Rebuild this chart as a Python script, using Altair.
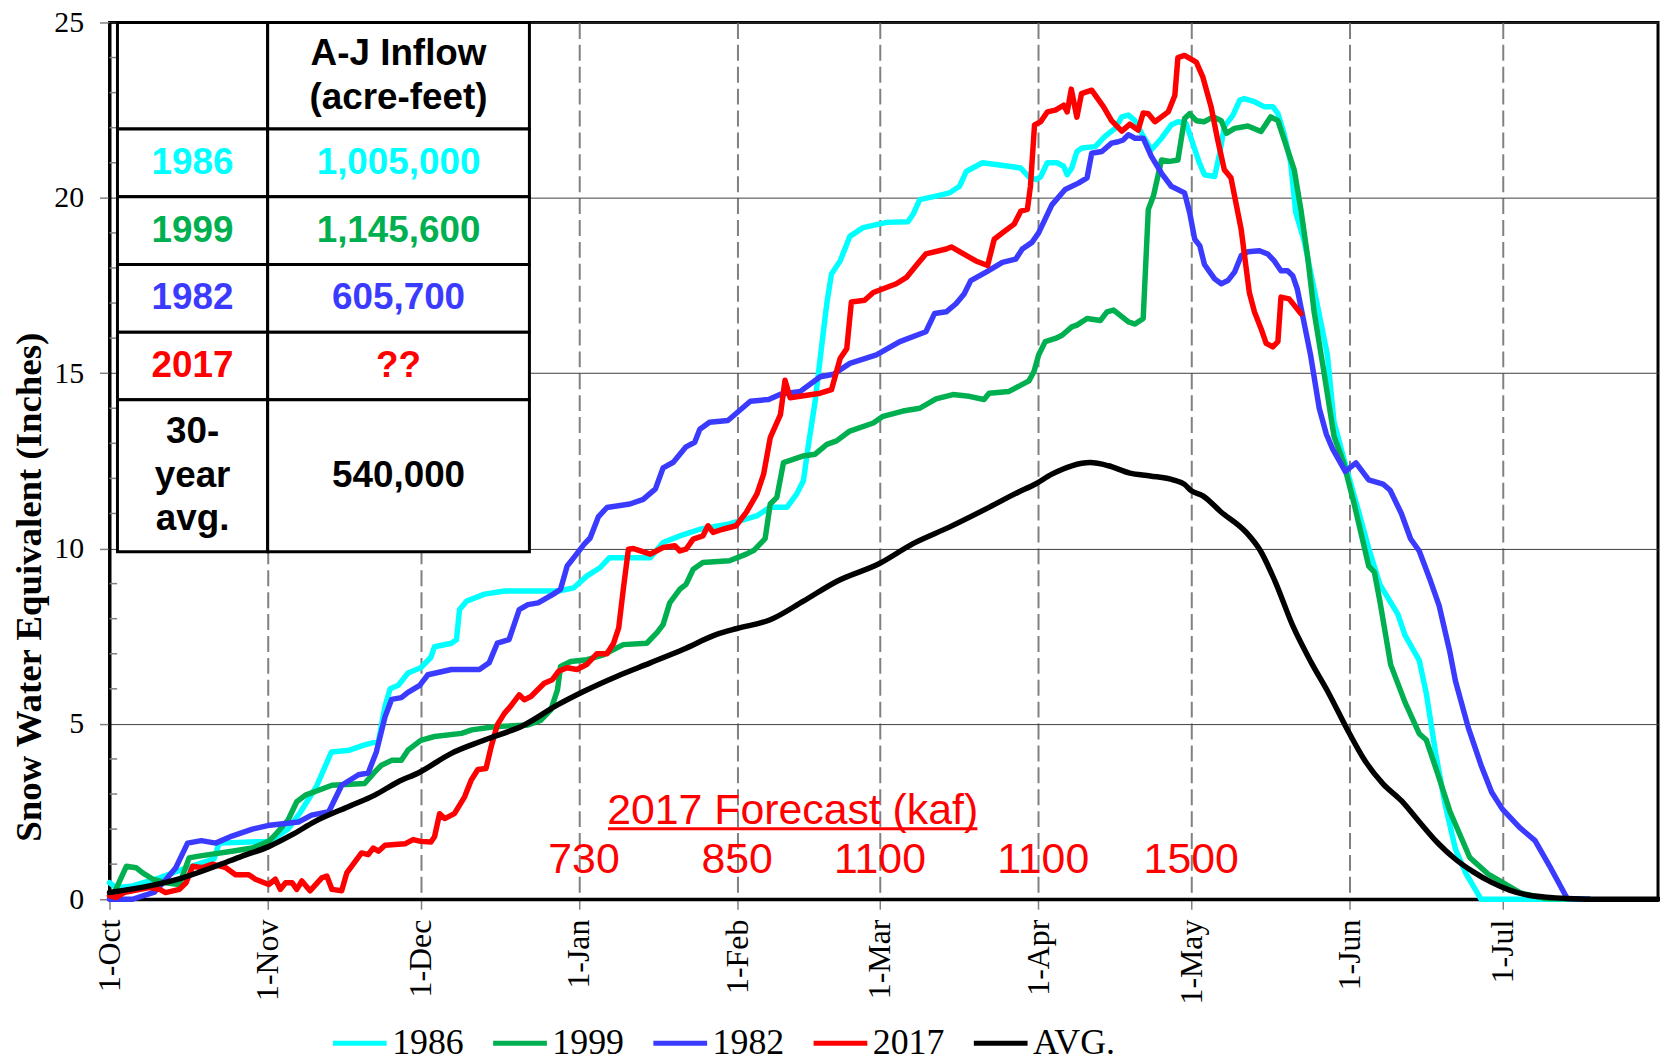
import altair as alt
import pandas as pd

# ---------------- data: day index counted from 1-Oct, SWE in inches ----------------
days_1986 = [0, 1.3, 4.5, 9, 14.3, 15.3, 20.5, 21.5, 31, 32.5, 35, 37.5, 40.5, 43.5, 47, 50, 52.7, 54, 55, 56.6,
             58.5, 61, 63, 63.7, 67, 68, 68.6, 70, 73.5, 77.4, 88, 91, 93.6, 96.2, 98, 106, 108.5, 111.8, 115.7,
             121.5, 127, 129.5, 132.8, 134.7, 136, 137, 138.3, 139.6, 140.6, 141.5, 143.2, 145.1, 147.7, 152.3,
             156.5, 157.5, 158.8, 162, 164.6, 166.6, 167.9, 171.1, 176.3, 178.6, 180.2, 181.5, 182.5, 183.8, 185.7,
             187, 187.7, 188.6, 189.6, 190.6, 193.2, 195.1, 197.1, 198.4, 199.7, 201, 202.3, 204.2, 206.2, 208.1,
             209.4, 211, 212.3, 213.6, 214.6, 216.6, 217.6, 218.5, 220.2, 221.5, 222.4, 224.4, 226.3, 228, 229,
             230.2, 231.5, 232.5, 234.1, 236.1, 237.4, 238.7, 240, 242.6, 244.7, 246.8, 249, 252.5, 253.9, 256.7,
             258.1, 259.9, 261.7, 263.8, 265.9, 268.8, 290]
swe_1986 = [0.47, 0.33, 0.38, 0.57, 0.85, 0.9, 1.15, 1.6, 1.65, 1.75, 2.0, 2.5, 3.2, 4.2, 4.25, 4.4, 4.5, 5.5, 6.0, 6.1,
            6.45, 6.6, 6.9, 7.2, 7.3, 7.4, 8.26, 8.5, 8.7, 8.79, 8.79, 8.88, 9.22, 9.46, 9.74, 9.74, 10.17, 10.36, 10.55,
            10.7, 10.94, 11.18, 11.18, 11.56, 11.93, 12.97, 14.2, 15.8, 17.0, 17.83, 18.2, 18.9, 19.15, 19.3,
            19.32, 19.53, 19.95, 20.05, 20.14, 20.33, 20.75, 21.0, 20.9, 20.85, 20.6, 20.52, 20.6, 21.0, 21.0,
            20.9, 20.66, 20.85, 21.32, 21.42, 21.46, 21.75, 21.98, 22.31, 22.36, 22.2, 21.84, 21.37, 21.7, 22.08,
            22.17, 22.12, 21.56, 21.0, 20.66, 20.61, 21.27, 22.03, 22.36, 22.78, 22.83, 22.74, 22.6, 22.6, 22.4,
            21.84, 21.0, 19.58, 18.8, 17.4, 16.46, 15.52, 13.6, 12.2, 11.12, 10.0, 8.97, 8.13, 7.53, 6.81,
            5.86, 4.18, 2.75, 1.43, 0.72, 0.0, 0.0]

days_1999 = [0, 1, 3.3, 5.2, 6.5, 8.5, 11, 13.7, 15.6, 17.5, 24, 28, 31.2, 32.5, 35, 36.7, 38.4, 43.6, 50, 52, 53.3,
             55.3, 57.2, 58.5, 61, 63.7, 69, 71, 75.4, 82, 84.5, 86.5, 87.8, 88.4, 90.4, 93.6, 96.8, 100.7, 105.3,
             107.3, 108.5, 109.8, 111.8, 113, 114.4, 116.3, 121.5, 124.8, 126.3, 128.5, 129.5, 130.8, 132.1, 136,
             138.3, 140.6, 142.5, 145.1, 149.7, 151.6, 155.5, 158.8, 162, 165.3, 168.5, 171.4, 172.4, 176.3, 180.2,
             181.2, 182.1, 183.4, 185.4, 186.7, 188.6, 189.6, 191.6, 194.2, 195.5, 196.8, 198.1, 199.7, 201, 202.6,
             203.6, 204.6, 206.2, 207.8, 209.4, 210.7, 211.7, 213, 214.6, 216.3, 217.9, 218.9, 220.5, 223.1, 225.7,
             227.6, 229, 230.9, 232.2, 233.5, 234.8, 236.1, 238, 240, 241.9, 244, 246.8, 247.9, 249, 251.1, 253.9,
             256.7, 258.1, 260.3, 262.7, 266.6, 270.2, 273, 276.5, 281.5, 290]
swe_1999 = [0.1, 0.2, 0.94, 0.9, 0.75, 0.57, 0.47, 0.42, 1.18, 1.23, 1.37, 1.46, 1.65, 1.84, 2.26, 2.78, 2.97, 3.25, 3.3,
            3.63, 3.82, 3.96, 3.96, 4.25, 4.53, 4.64, 4.73, 4.83, 4.92, 4.97, 5.1, 5.4, 5.97, 6.64, 6.78, 6.83, 6.97,
            7.26, 7.3, 7.6, 7.83, 8.45, 8.84, 8.98, 9.41, 9.6, 9.65, 9.84, 9.95, 10.28, 11.27, 11.46, 12.45, 12.64,
            12.69, 12.97, 13.07, 13.35, 13.58, 13.77, 13.92, 14.0, 14.27, 14.39, 14.34, 14.25, 14.43, 14.48, 14.78,
            15.05, 15.52, 15.9, 15.99, 16.08, 16.32, 16.37, 16.56, 16.5, 16.75, 16.8, 16.65, 16.46, 16.4, 16.56,
            19.67, 20.05, 21.08, 21.04, 21.08, 22.26, 22.4, 22.2, 22.17, 22.31, 22.2, 21.84, 21.98, 22.05, 21.89,
            22.31, 22.2, 21.37, 20.8, 19.67, 18.35, 16.75, 15.05, 13.2, 12.44, 11.24, 9.5, 9.33, 8.49, 6.69, 5.62,
            4.72, 4.54, 3.59, 2.51, 1.19, 0.72, 0.48, 0.18, 0.02, 0.0]

days_1982 = [0, 4.5, 8.8, 10.7, 13, 15.3, 18, 20.8, 24, 28, 31, 37, 39.6, 43, 45.5, 48.8, 50.7, 52.3, 54, 55.3, 57.2,
             58.5, 60.8, 62.4, 67, 72.5, 74.4, 76, 78.3, 80.3, 82, 84, 87, 88.4, 89.7, 91, 93, 94.2, 95.8, 97.5, 102,
             104.6, 107, 108.5, 110.5, 113, 114.7, 115.7, 117.6, 121.2, 122.8, 125.6, 129.2, 131.5, 135.4, 139.3,
             141.9, 145.1, 150.3, 154.9, 160, 161.7, 164, 165.9, 167.5, 168.8, 171.8, 175, 177.6, 178.9, 180.8,
             182.1, 183.4, 184.7, 187.3, 189.9, 191.6, 192.5, 194.5, 196.4, 197.7, 198.7, 199.7, 201, 202.6, 204.2,
             206.2, 208.1, 210.7, 211.7, 212.7, 213.7, 214.6, 216.6, 217.9, 219.2, 220.5, 221.8, 223.1, 225.4, 227,
             228.3, 229.6, 230.9, 231.9, 232.8, 234.1, 235.4, 237.1, 238.5, 239.7, 242.2, 244.3, 246.8, 249.6, 251,
             253.2, 255, 256.7, 258.9, 260.6, 262.7, 263.8, 266.3, 268.8, 270.9, 273, 276.5, 279.4, 282.2, 285.7,
             290]
swe_1982 = [0.0, 0.0, 0.2, 0.5, 0.9, 1.6, 1.67, 1.6, 1.8, 2.0, 2.1, 2.2, 2.4, 2.5, 3.25, 3.55, 3.6, 4.2, 5.2, 5.7, 5.75,
            5.9, 6.1, 6.4, 6.55, 6.55, 6.74, 7.3, 7.4, 8.26, 8.4, 8.45, 8.7, 8.84, 9.5, 9.74, 10.12, 10.3, 10.9, 11.17,
            11.27, 11.4, 11.7, 12.3, 12.46, 12.9, 13.03, 13.4, 13.6, 13.65, 13.85, 14.2, 14.25, 14.4, 14.48, 14.9,
            14.97, 15.28, 15.52, 15.9, 16.18, 16.7, 16.75, 16.98, 17.26, 17.64, 17.88, 18.16, 18.25, 18.54, 18.73,
            19.0, 19.4, 19.8, 20.24, 20.42, 20.57, 21.27, 21.32, 21.56, 21.6, 21.65, 21.8, 21.7, 21.7, 21.18, 20.7,
            20.33, 20.14, 19.58, 18.82, 18.63, 18.1, 17.69, 17.55, 17.64, 17.88, 18.35, 18.46, 18.49, 18.4, 18.2,
            17.92, 17.92, 17.78, 17.4, 16.46, 15.52, 14.0, 13.26, 12.85, 12.2, 12.44, 11.96, 11.84, 11.66, 11.0,
            10.28, 9.93, 9.08, 8.37, 7.05, 6.22, 4.9, 3.83, 3.05, 2.57, 2.03, 1.67, 0.96, 0.02, 0.0]

days_2017 = [0, 1.3, 3, 4.5, 7.8, 9.8, 11, 13.7, 15, 16.3, 18.2, 20.2, 22.8, 24.7, 27.3, 28.6, 31.2, 32.5, 33.5, 34.5,
             35.8, 36.7, 37.7, 39.3, 41.6, 42.6, 43.6, 45.5, 46.5, 49.4, 50.7, 51.7, 52.7, 54, 57.9, 59.5, 61, 63,
             63.7, 64.7, 65.7, 67.6, 69.6, 70.9, 72.2, 73.8, 74.8, 76, 77.4, 78.6, 80.3, 81.3, 82.6, 85.2, 86.8, 88,
             89.7, 91.6, 93.6, 95.5, 97.5, 98.8, 99.8, 100.7, 101.7, 102.7, 106, 108.5, 110.8, 111.8, 113, 114.4,
             116.3, 117.3, 118.3, 120.2, 122.8, 124.8, 126.9, 128.2, 129.5, 131.5, 132.4, 133.4, 139.3, 141.5, 143.2,
             144.5, 145.4, 148, 149.7, 154.2, 156.2, 158.1, 160, 164, 165, 169.8, 172.1, 173.4, 175, 177.3, 178.6,
             179.9, 180.5, 181.3, 182.5, 183.8, 185.4, 187, 187.7, 188.5, 189.6, 190.5, 192.5, 194.8, 196.4, 198.4,
             200, 201.6, 202.6, 203.6, 204.9, 207.5, 208.8, 209.4, 210.7, 213, 214.3, 215.9, 217.2, 218.5, 219.8,
             221.8, 223.4, 224.4, 225.7, 226.7, 228, 229, 229.6, 231.2, 233.5]
swe_2017 = [0.1, 0.05, 0.2, 0.24, 0.33, 0.28, 0.19, 0.28, 0.47, 0.94, 0.9, 1.0, 0.9, 0.7, 0.7, 0.57, 0.42, 0.57, 0.28,
            0.47, 0.47, 0.28, 0.52, 0.24, 0.61, 0.66, 0.28, 0.24, 0.75, 1.32, 1.27, 1.46, 1.37, 1.54, 1.58, 1.7, 1.65,
            1.63, 1.78, 2.44, 2.3, 2.44, 2.92, 3.4, 3.7, 3.73, 4.35, 4.97, 5.3, 5.5, 5.83, 5.69, 5.78, 6.16, 6.26,
            6.5, 6.6, 6.55, 6.7, 7.0, 7.0, 7.3, 7.74, 8.84, 9.98, 10.0, 9.84, 10.03, 10.08, 9.93, 9.98, 10.27, 10.36,
            10.65, 10.46, 10.55, 10.65, 11.03, 11.56, 12.12, 13.16, 13.82, 14.8, 14.3, 14.43, 14.53, 15.42, 15.7,
            17.03, 17.08, 17.3, 17.55, 17.73, 18.07, 18.4, 18.54, 18.6, 18.2, 18.07, 18.82, 19.0, 19.25, 19.62, 19.67,
            20.33, 22.08, 22.17, 22.45, 22.5, 22.64, 22.45, 23.1, 22.3, 22.97, 23.07, 22.6, 22.2, 21.9, 22.1, 21.93,
            22.42, 22.4, 22.17, 22.45, 22.92, 24.0, 24.06, 23.87, 23.44, 22.6, 21.65, 20.8, 20.57, 19.1, 17.3,
            16.75, 16.27, 15.85, 15.75, 15.9, 17.17, 17.12, 16.7]

days_avg = [0, 7.8, 14.3, 20.8, 26, 31.2, 35.8, 40.3, 46.8, 52, 56.6, 60.5, 67, 73.5, 81.3, 87.8, 93, 99.5, 106, 112.4,
            119, 123, 129.5, 136, 142.5, 151, 157.5, 164.6, 171.8, 178, 181.5, 184.7, 188.6, 192.2, 195.8, 200, 204,
            208.6, 210.7, 212, 214.3, 217.8, 222.8, 225.6, 228.4, 232, 235.5, 239, 242.6, 246.1, 249.6, 253.2,
            256.7, 260.3, 263.8, 267.3, 270.9, 274.4, 277.9, 281.5, 285.7, 290, 303.5]
swe_avg = [0.19, 0.38, 0.61, 0.94, 1.23, 1.5, 1.84, 2.22, 2.64, 2.97, 3.35, 3.6, 4.16, 4.54, 4.97, 5.54, 5.93, 6.36,
           6.74, 7.12, 7.55, 7.72, 7.97, 8.5, 9.06, 9.58, 10.14, 10.61, 11.13, 11.6, 11.84, 12.12, 12.36, 12.45,
           12.36, 12.15, 12.07, 11.95, 11.83, 11.65, 11.5, 11.05, 10.46, 9.93, 9.08, 7.77, 6.76, 5.86, 4.84, 3.94,
           3.29, 2.81, 2.21, 1.61, 1.14, 0.78, 0.48, 0.26, 0.12, 0.06, 0.02, 0.0, 0.0]

series_names = ["1986", "1999", "1982", "2017", "AVG."]
series_colors = ["#00FFFF", "#00B050", "#3B3BFF", "#FF0000", "#000000"]
series_days = [days_1986, days_1999, days_1982, days_2017, days_avg]
series_swe = [swe_1986, swe_1999, swe_1982, swe_2017, swe_avg]

month_days = [0, 31, 61, 92, 123, 151, 182, 212, 243, 273]
month_labels = ["1-Oct", "1-Nov", "1-Dec", "1-Jan", "1-Feb", "1-Mar", "1-Apr", "1-May", "1-Jun", "1-Jul"]
y_ticks = [0, 5, 10, 15, 20, 25]
minor_y = [v for v in range(1, 25) if v % 5 != 0]

# table content
table_years = ["1986", "1999", "1982", "2017", "30-\nyear\navg."]
table_inflows = ["1,005,000", "1,145,600", "605,700", "??", "540,000"]
table_colors = ["#00FFFF", "#00B050", "#3B3BFF", "#FF0000", "#000000"]
table_header = "A-J Inflow\n(acre-feet)"

forecast_title = "2017 Forecast (kaf)"
forecast_values = ["730", "850", "1100", "1100", "1500"]
forecast_days = [93, 123, 151, 183, 212]

# ---------------- layout constants ----------------
PLOT_W, PLOT_H = 1556, 881
Y_MAX = 25.0
PX_PER_IN = PLOT_H / Y_MAX
LINE_H = 44  # px between table text lines
table_x_edges = [1.56, 31.0, 82.3]
table_y_edges = [25.0, 21.96, 20.03, 18.1, 16.17, 14.24, 9.91]

rows = []
for name, ds, vs in zip(series_names, series_days, series_swe):
    for d, v in zip(ds, vs):
        rows.append({"series": name, "day": d, "swe": v})
df = pd.DataFrame(rows)

x_scale = alt.Scale(domain=[0, 303.5], nice=False, zero=False)
y_scale = alt.Scale(domain=[0, Y_MAX], nice=False, zero=False)
label_expr = "[" + ",".join("'%s'" % m for m in month_labels) + "][indexof([" + \
    ",".join(str(d) for d in month_days) + "], datum.value)]"

x_axis = alt.Axis(values=month_days, labelExpr=label_expr, labelAngle=270, labelFont="Liberation Serif",
                  labelFontSize=32, labelColor="black", labelPadding=10, tickSize=10, tickColor="#808080",
                  tickWidth=1.5, domainColor="black", domainWidth=3, grid=True, gridColor="#808080",
                  gridDash=[16, 6], gridWidth=2, title=None)
y_axis = alt.Axis(values=y_ticks, labelFont="Liberation Serif", labelFontSize=30, labelColor="black",
                  labelPadding=16, tickSize=10, tickColor="#808080", tickWidth=1.5, domainColor="black",
                  domainWidth=3, grid=True, gridColor="#404040", gridWidth=1,
                  title="Snow Water Equivalent (Inches)", titleFont="Liberation Serif", titleFontSize=37,
                  titleFontWeight="bold", titleColor="black", titlePadding=5, titleY=567)

color_scale = alt.Scale(domain=series_names, range=series_colors)
legend = alt.Legend(orient="none", legendX=222, legendY=996, direction="horizontal", title=None,
                    labelFont="Liberation Serif", labelFontSize=36, labelColor="black", symbolType="stroke",
                    symbolStrokeWidth=5, symbolSize=2916, labelOffset=3, columnPadding=19, padding=0)

layers = []
base = alt.Chart(df).mark_line(strokeWidth=0, opacity=0).encode(
    x=alt.X("day:Q", scale=x_scale, axis=x_axis),
    y=alt.Y("swe:Q", scale=y_scale, axis=y_axis),
    detail="series:N",
)
layers.append(base)

minor_df = pd.DataFrame({"y": minor_y, "x0": [0] * len(minor_y), "x1": [1.5] * len(minor_y)})
minor = alt.Chart(minor_df).mark_rule(color="#808080", strokeWidth=1.5).encode(
    x=alt.X("x0:Q", scale=x_scale), x2="x1:Q", y=alt.Y("y:Q", scale=y_scale))
layers.append(minor)

for i, name in enumerate(series_names):
    layers.append(
        alt.Chart(df).transform_filter(alt.datum.series == name).mark_line(
            strokeWidth=5.5, strokeJoin="round", strokeCap="round",
            interpolate="monotone" if name == "AVG." else "linear").encode(
            x=alt.X("day:Q", scale=x_scale),
            y=alt.Y("swe:Q", scale=y_scale),
            color=alt.Color("series:N", scale=color_scale, legend=legend if i == 0 else None),
        )
    )

cells = []
for r in range(len(table_y_edges) - 1):
    for c in range(2):
        cells.append({"x": table_x_edges[c], "x2": table_x_edges[c + 1],
                      "y": table_y_edges[r], "y2": table_y_edges[r + 1]})
cells_df = pd.DataFrame(cells)
table_rect = alt.Chart(cells_df).mark_rect(fill="white", stroke="black", strokeWidth=3).encode(
    x=alt.X("x:Q", scale=x_scale), x2="x2:Q", y=alt.Y("y:Q", scale=y_scale), y2="y2:Q")
layers.append(table_rect)


def add_cell_text(out, xc, yc, text, color):
    parts = text.split("\n")
    n = len(parts)
    for k, p in enumerate(parts):
        out.append({"x": xc, "y": yc + ((n - 1) / 2 - k) * LINE_H / PX_PER_IN, "t": p, "c": color})


texts = []
add_cell_text(texts, (table_x_edges[1] + table_x_edges[2]) / 2, (table_y_edges[0] + table_y_edges[1]) / 2,
              table_header, "#000000")
for i in range(5):
    yc = (table_y_edges[i + 1] + table_y_edges[i + 2]) / 2
    add_cell_text(texts, (table_x_edges[0] + table_x_edges[1]) / 2, yc, table_years[i], table_colors[i])
    add_cell_text(texts, (table_x_edges[1] + table_x_edges[2]) / 2, yc, table_inflows[i], table_colors[i])
texts_df = pd.DataFrame(texts)
table_text = alt.Chart(texts_df).mark_text(font="Liberation Sans", fontWeight="bold", fontSize=37,
                                           align="center", baseline="middle").encode(
    x=alt.X("x:Q", scale=x_scale), y=alt.Y("y:Q", scale=y_scale), text="t:N",
    color=alt.Color("c:N", scale=None))
layers.append(table_text)

ft_df = pd.DataFrame({"x": [133.9], "y": [2.15], "t": [forecast_title]})
ft = alt.Chart(ft_df).mark_text(font="Liberation Sans", fontSize=43, color="#FF0000", align="center",
                                baseline="alphabetic").encode(
    x=alt.X("x:Q", scale=x_scale), y=alt.Y("y:Q", scale=y_scale), text="t:N")
ul_df = pd.DataFrame({"x": [97.7], "x2": [170.1], "y": [2.01]})
ul = alt.Chart(ul_df).mark_rule(color="#FF0000", strokeWidth=3).encode(
    x=alt.X("x:Q", scale=x_scale), x2="x2:Q", y=alt.Y("y:Q", scale=y_scale))
fv_df = pd.DataFrame({"x": forecast_days, "y": [0.74] * 5, "t": forecast_values})
fv = alt.Chart(fv_df).mark_text(font="Liberation Sans", fontSize=43, color="#FF0000", align="center",
                                baseline="alphabetic").encode(
    x=alt.X("x:Q", scale=x_scale), y=alt.Y("y:Q", scale=y_scale), text="t:N")
layers += [ft, ul, fv]

chart = alt.layer(*layers).properties(
    width=PLOT_W, height=PLOT_H,
    padding={"left": 102, "top": 12, "right": 2, "bottom": 160},
    autosize=alt.AutoSizeParams(type="none"),
).configure_view(stroke="black", strokeWidth=3)

chart.save("out.html", embed_options={"renderer": "svg", "actions": False})
